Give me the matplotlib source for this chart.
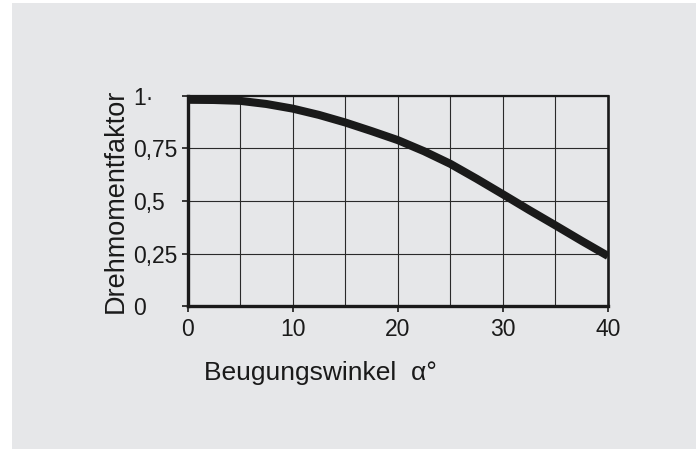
import matplotlib
matplotlib.use("Agg")
import matplotlib.pyplot as plt
from matplotlib.patches import Rectangle

# data
winkel = [0, 2.5, 5, 7.5, 10, 12.5, 15, 17.5, 20, 22.5, 25, 27.5, 30, 32.5, 35, 37.5, 40]
faktor = [0.982, 0.981, 0.977, 0.962, 0.94, 0.91, 0.874, 0.833, 0.79, 0.737, 0.677,
          0.606, 0.532, 0.457, 0.384, 0.31, 0.238]

x_ticks = [0, 10, 20, 30, 40]
x_grid = [5, 15, 25, 35]
y_ticks = [0, 0.25, 0.5, 0.75, 1]
y_labels = ["0", "0,25", "0,5", "0,75", "1·"]

plt.rcParams["font.family"] = ["Liberation Sans", "DejaVu Sans"]
bg = "#e6e7e9"
ink = "#1a1a1a"

W, H = 698, 450
fig = plt.figure(figsize=(W / 100, H / 100), dpi=100, facecolor="white")
# grey panel behind everything
fig.patches.append(Rectangle((12 / W, 1 / H), 684 / W, 446 / H, transform=fig.transFigure,
                             facecolor=bg, edgecolor="none", zorder=-10))

ax = fig.add_axes([187.5 / W, 1 - 306 / H, 420.5 / W, 210 / H])
ax.set_facecolor(bg)

ax.plot(winkel, faktor, color=ink, lw=5.8, solid_capstyle="butt", solid_joinstyle="round", zorder=3)

ax.set_xlim(0, 40)
ax.set_ylim(0, 1)
ax.set_xticks(x_ticks)
ax.set_xticks(x_grid, minor=True)
ax.set_yticks(y_ticks)
ax.set_yticklabels(y_labels)
ax.grid(True, which="both", color="#2a2a2a", lw=0.8, zorder=1)
ax.tick_params(axis="x", which="major", length=4, width=1.2, color=ink, pad=5,
               labelsize=16.5, labelcolor=ink)
ax.tick_params(axis="x", which="minor", length=0)
ax.tick_params(axis="y", length=4, width=1.2, color=ink, pad=35,
               labelsize=16.5, labelcolor=ink)
for lab in ax.get_yticklabels():
    lab.set_horizontalalignment("left")

for side, w in [("left", 2.4), ("bottom", 2.4), ("top", 1.6), ("right", 1.9)]:
    ax.spines[side].set_linewidth(w)
    ax.spines[side].set_color(ink)

fig.text(116 / W, 1 - 201 / H, "Drehmomentfaktor", rotation=90, ha="center", va="center",
         fontsize=19.5, color=ink)
fig.text(204 / W, 1 - 373 / H, "Beugungswinkel  α°", ha="left", va="center",
         fontsize=19, color=ink)

fig.savefig("out.png", dpi=100, facecolor="white")
